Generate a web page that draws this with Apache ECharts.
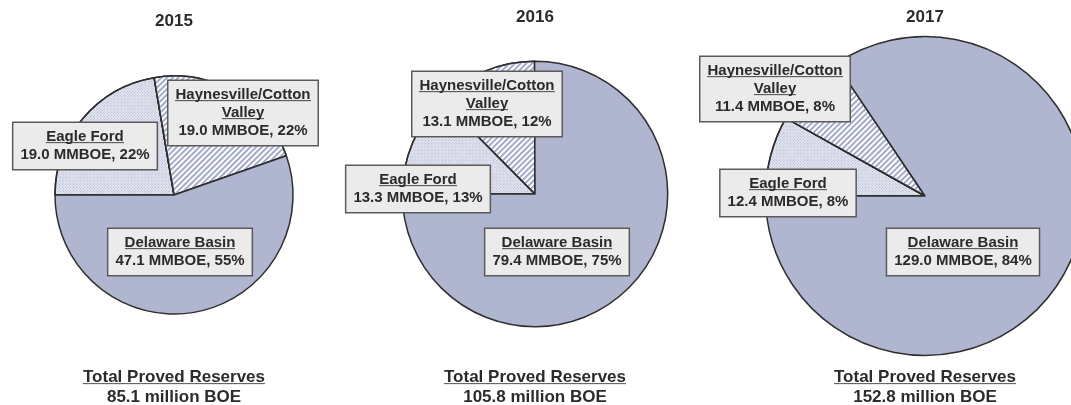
<!DOCTYPE html>
<html>
<head>
<meta charset="utf-8">
<script src="https://cdn.jsdelivr.net/npm/echarts@6/dist/echarts.min.js"></script>
<style>
html,body{margin:0;padding:0;background:#fff;}
#chart{width:1071px;height:405px;}
</style>
</head>
<body>
<div id="chart"></div>
<script>
// ---- data ----
const years = ['2015', '2016', '2017'];
const regions = ['Eagle Ford', 'Haynesville/Cotton\nValley', 'Delaware Basin'];
const reserves2015 = [19.0, 19.0, 47.1];
const reserves2016 = [13.3, 13.1, 79.4];
const reserves2017 = [12.4, 11.4, 129.0];
const share2015 = [22, 22, 55];
const share2016 = [13, 12, 75];
const share2017 = [8, 8, 84];
const totalLabel = 'Total Proved Reserves';
const unitLabel = 'MMBOE';
const totalUnit = 'million BOE';

// ---- layout / style (not data) ----
const reserves = [reserves2015, reserves2016, reserves2017];
const shares = [share2015, share2016, share2017];
const centers = [[174, 195], [535, 194], [925, 196]];
const radiusScale = 12.9; // radius proportional to sqrt(total)
const labelPos = [
  [[85, 146], [243, 113], [180, 252]],
  [[418, 189], [487, 104], [557, 252]],
  [[788, 193], [775, 89], [963, 252]]
];
const yearTop = [13, 9, 9];

// underline image for rich text tokens
function makeUnderline(h, row, color) {
  const c = document.createElement('canvas');
  c.width = 4; c.height = h;
  const ctx = c.getContext('2d');
  ctx.fillStyle = color;
  ctx.fillRect(0, row, 4, 1.2);
  return c;
}
const ul18 = makeUnderline(18, 15, '#555');
const ul20 = makeUnderline(20, 17, '#555');

const FONT = '"Liberation Sans", Arial, sans-serif';
const textColor = '#2b2b2b';

const sliceStyles = [
  { color: '#e3e6f0', decal: { symbol: 'rect', symbolSize: 1, color: 'rgba(130,138,178,0.5)', dashArrayX: [1, 1], dashArrayY: [1, 1], rotation: Math.PI / 4 } },
  { color: '#ffffff', decal: { symbol: 'rect', symbolSize: 1, color: '#a4aaca', dashArrayX: [1, 0], dashArrayY: [2, 2], rotation: -Math.PI / 4 } },
  { color: '#b0b6cf' }
];

const chart = echarts.init(document.getElementById('chart'), null, { renderer: 'canvas' });

const series = reserves.map(function (vals, si) {
  const total = vals.reduce((a, b) => a + b, 0);
  return {
    type: 'pie',
    center: centers[si],
    radius: radiusScale * Math.sqrt(total),
    startAngle: 180,
    clockwise: true,
    silent: true,
    animation: false,
    avoidLabelOverlap: false,
    itemStyle: { borderColor: '#2e2e2e', borderWidth: 1.5 },
    labelLine: { show: false },
    label: {
      show: true,
      position: 'inside',
      align: 'center',
      backgroundColor: '#ebebeb',
      borderColor: '#5a5a5a',
      borderWidth: 1.5,
      padding: [5, 7, 5, 7],
      formatter: function (p) {
        const lines = p.name.split('\n').map(s => '{u|' + s + '}');
        lines.push('{v|' + p.value.toFixed(1) + ' ' + unitLabel + ', ' + shares[si][p.dataIndex] + '%}');
        return lines.join('\n');
      },
      rich: {
        u: { fontFamily: FONT, fontWeight: 'bold', fontSize: 15, lineHeight: 18, color: textColor, backgroundColor: { image: ul18 } },
        v: { fontFamily: FONT, fontWeight: 'bold', fontSize: 15, lineHeight: 18, color: textColor }
      }
    },
    labelLayout: function (params) {
      const pos = labelPos[si][params.dataIndex];
      return { x: pos[0], y: pos[1], align: 'center', verticalAlign: 'middle' };
    },
    data: regions.map(function (name, i) {
      return { name: name, value: vals[i], itemStyle: sliceStyles[i] };
    })
  };
});

const titles = [];
years.forEach(function (y, si) {
  titles.push({
    text: y,
    left: centers[si][0],
    top: yearTop[si],
    textAlign: 'center',
    padding: 0,
    textStyle: { fontFamily: FONT, fontWeight: 'bold', fontSize: 17, color: textColor }
  });
  const total = reserves[si].reduce((a, b) => a + b, 0);
  titles.push({
    text: '{u|' + totalLabel + '}\n{v|' + total.toFixed(1) + ' ' + totalUnit + '}',
    left: centers[si][0],
    top: 367,
    textAlign: 'center',
    padding: 0,
    textStyle: {
      rich: {
        u: { fontFamily: FONT, fontWeight: 'bold', fontSize: 17, lineHeight: 20, color: textColor, backgroundColor: { image: ul20 } },
        v: { fontFamily: FONT, fontWeight: 'bold', fontSize: 17, lineHeight: 20, color: textColor }
      }
    }
  });
});

chart.setOption({
  animation: false,
  backgroundColor: '#ffffff',
  title: titles,
  series: series
});
</script>
</body>
</html>
